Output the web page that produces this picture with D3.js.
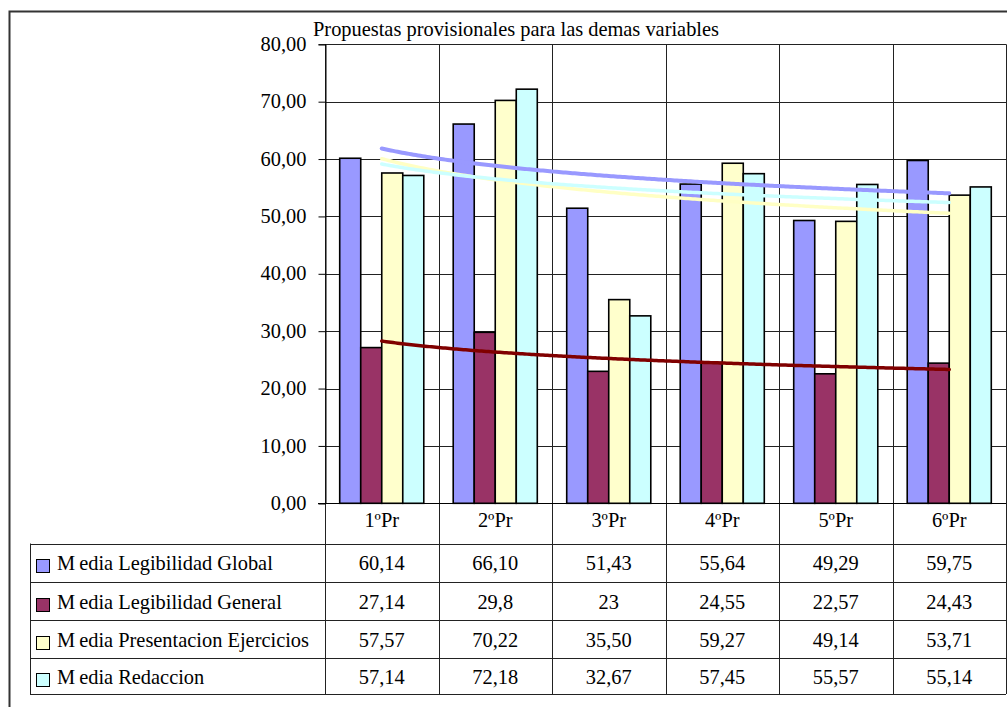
<!DOCTYPE html>
<html>
<head>
<meta charset="utf-8">
<script src="https://cdn.jsdelivr.net/npm/d3@7/dist/d3.min.js"></script>
<style>
  html, body { margin: 0; padding: 0; background: #fff; }
  svg { display: block; font-family: "Liberation Serif", "Times New Roman", serif; }
</style>
</head>
<body>
<svg id="chart" width="1007" height="707"></svg>
<script>
// Chart data
const title = "Propuestas provisionales para las demas variables";
const categories = ["1ºPr", "2ºPr", "3ºPr", "4ºPr", "5ºPr", "6ºPr"];
const seriesNames = [
  "Media Legibilidad Global",
  "Media Legibilidad General",
  "Media Presentacion Ejercicios",
  "Media Redaccion"
];
const legibilidadGlobal = [60.14, 66.10, 51.43, 55.64, 49.29, 59.75];
const legibilidadGeneral = [27.14, 29.8, 23, 24.55, 22.57, 24.43];
const presentacionEjercicios = [57.57, 70.22, 35.50, 59.27, 49.14, 53.71];
const redaccion = [57.14, 72.18, 32.67, 57.45, 55.57, 55.14];
const seriesDecimals = [2, null, 2, 2];   // null = general number format
const yTicks = [0, 10, 20, 30, 40, 50, 60, 70, 80];

// Styles
const barColors = ["#9999FF", "#993366", "#FFFFCC", "#CCFFFF"];
const trendColors = ["#9999FF", "#800000", "#FFFFC4", "#CCFFFF"];
const seriesValues = [legibilidadGlobal, legibilidadGeneral, presentacionEjercicios, redaccion];

const svg = d3.select("#chart");
const FONT = 20.4;
const FAMILY = "Liberation Serif, Times New Roman, serif";

// Layout
const plotLeft = 325, plotRight = 1006, plotTop = 44.3, plotBottom = 503.3;
const rowLines = [543.5, 582, 620, 658.3, 694];
const tableLeft = 30;

const x = d3.scaleBand().domain(categories).range([plotLeft, plotRight]).paddingInner(0).paddingOuter(0);
const y = d3.scaleLinear().domain([0, 80]).range([plotBottom, plotTop]);
const catW = x.bandwidth();
const gapRatio = 1.4;                       // gap width 140%
const barW = catW / (seriesNames.length + gapRatio);
const xs = d3.scaleBand().domain(d3.range(seriesNames.length))
  .range([barW * gapRatio / 2, catW - barW * gapRatio / 2]).padding(0);

const crisp = v => Math.round(v) + 0.5;

// Outer frame
svg.append("rect")
  .attr("x", 9.5).attr("y", 11.5).attr("width", 1010).attr("height", 710)
  .attr("fill", "none").attr("stroke", "#333").attr("stroke-width", 2);

// Horizontal gridlines
svg.append("g").selectAll("line").data(yTicks).join("line")
  .attr("x1", plotLeft).attr("x2", plotRight)
  .attr("y1", d => crisp(y(d))).attr("y2", d => crisp(y(d)))
  .attr("stroke", "#222").attr("stroke-width", 1);

// Vertical category dividers (plot + data table)
const dividers = categories.map(c => x(c) + catW).concat([plotLeft]);
svg.append("g").selectAll("line").data(dividers).join("line")
  .attr("x1", d => crisp(d)).attr("x2", d => crisp(d))
  .attr("y1", plotTop).attr("y2", rowLines[rowLines.length - 1])
  .attr("stroke", "#222").attr("stroke-width", 1);

// Y axis
const yAxis = d3.axisLeft(y).tickValues(yTicks).tickSize(7).tickPadding(12)
  .tickFormat(d => d3.format(".2f")(d).replace(".", ","));
const yAxisG = svg.append("g").attr("transform", `translate(${crisp(plotLeft)},0)`).call(yAxis)
  .attr("font-family", FAMILY).attr("font-size", FONT);
yAxisG.select(".domain").attr("stroke", "#000");
yAxisG.selectAll(".tick line").attr("stroke", "#000");
yAxisG.selectAll(".tick text").attr("fill", "#000").attr("dy", "0.3em");

// Bars
const groups = svg.append("g").selectAll("g").data(categories).join("g")
  .attr("transform", c => `translate(${x(c)},0)`);
groups.selectAll("rect")
  .data((c, i) => seriesValues.map((vals, s) => ({ s, v: vals[i] })))
  .join("rect")
  .attr("x", d => xs(d.s))
  .attr("width", xs.bandwidth())
  .attr("y", d => y(d.v))
  .attr("height", d => y(0) - y(d.v))
  .attr("fill", d => barColors[d.s])
  .attr("stroke", "#000").attr("stroke-width", 1.6);

// Axis baseline over bars
svg.append("line")
  .attr("x1", plotLeft - 7).attr("x2", plotRight)
  .attr("y1", crisp(plotBottom)).attr("y2", crisp(plotBottom))
  .attr("stroke", "#000").attr("stroke-width", 1);

// Logarithmic trendlines (least squares on ln(x))
function logFit(vals) {
  const xsL = vals.map((_, i) => Math.log(i + 1));
  const mx = d3.mean(xsL), my = d3.mean(vals);
  let sxy = 0, sxx = 0;
  vals.forEach((v, i) => { sxy += (xsL[i] - mx) * (v - my); sxx += (xsL[i] - mx) ** 2; });
  const b = sxy / sxx, a = my - b * mx;
  return t => a + b * Math.log(t);
}
const xIdx = d3.scaleLinear().domain([1, categories.length])
  .range([x(categories[0]) + catW / 2, x(categories[categories.length - 1]) + catW / 2]);
const tSamples = d3.range(1, categories.length + 0.0001, 0.02);
const trendLine = d3.line().x(d => xIdx(d[0])).y(d => y(d[1]));
seriesValues.forEach((vals, s) => {
  const f = logFit(vals);
  svg.append("path")
    .datum(tSamples.map(t => [t, f(t)]))
    .attr("d", trendLine)
    .attr("fill", "none")
    .attr("stroke", trendColors[s])
    .attr("stroke-width", s === 0 ? 4 : 3.5)
    .attr("stroke-linecap", "round");
});

// Title
svg.append("text")
  .attr("x", 313).attr("y", 35.5)
  .attr("font-family", FAMILY).attr("font-size", FONT).attr("fill", "#000")
  .text(title);

// Category labels row
svg.append("g").selectAll("text").data(categories).join("text")
  .attr("x", c => x(c) + catW / 2).attr("y", 527)
  .attr("text-anchor", "middle").attr("font-family", FAMILY).attr("font-size", FONT).attr("fill", "#000")
  .text(c => c);

// Data table lines
svg.append("g").selectAll("line").data(rowLines).join("line")
  .attr("x1", tableLeft).attr("x2", plotRight)
  .attr("y1", d => crisp(d)).attr("y2", d => crisp(d))
  .attr("stroke", "#222").attr("stroke-width", 1);
svg.append("line")
  .attr("x1", crisp(tableLeft)).attr("x2", crisp(tableLeft))
  .attr("y1", rowLines[0]).attr("y2", rowLines[rowLines.length - 1])
  .attr("stroke", "#222").attr("stroke-width", 1);

// Legend keys, series names and values
const fmt = (v, dec) => (dec == null ? String(v) : d3.format(`.${dec}f`)(v)).replace(".", ",");
seriesNames.forEach((name, s) => {
  const mid = (rowLines[s] + rowLines[s + 1]) / 2;
  svg.append("rect")
    .attr("x", 36.5).attr("y", Math.round(mid - 3.5) + 0.5)
    .attr("width", 13).attr("height", 13)
    .attr("fill", barColors[s]).attr("stroke", "#000").attr("stroke-width", 1);
  const label = svg.append("text")
    .attr("x", 57).attr("y", mid + 7.5)
    .attr("font-family", FAMILY).attr("font-size", FONT).attr("fill", "#000");
  label.append("tspan").text(name.slice(0, 1));
  label.append("tspan").attr("dx", 4).text(name.slice(1));
  svg.append("g").selectAll("text").data(seriesValues[s]).join("text")
    .attr("x", (v, i) => x(categories[i]) + catW / 2)
    .attr("y", mid + 7.5)
    .attr("text-anchor", "middle").attr("font-family", FAMILY).attr("font-size", FONT).attr("fill", "#000")
    .text(v => fmt(v, seriesDecimals[s]));
});
</script>
</body>
</html>
